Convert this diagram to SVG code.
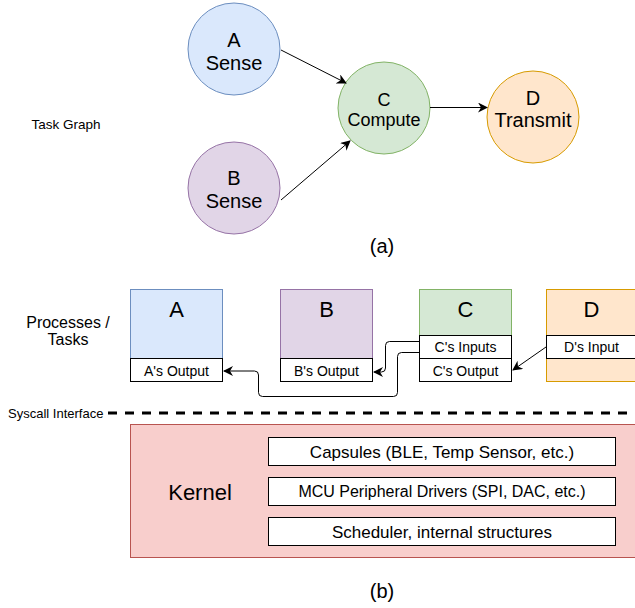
<svg xmlns="http://www.w3.org/2000/svg" width="635" height="608" viewBox="0 0 635 608">
<style>
text{font-family:"Liberation Sans",Arial,sans-serif;fill:#000;text-anchor:middle}
.blue{fill:#dae8fc;stroke:#6c8ebf}
.purple{fill:#e1d5e7;stroke:#9673a6}
.green{fill:#d5e8d4;stroke:#82b366}
.orange{fill:#ffe6cc;stroke:#d79b00}
.red{fill:#f8cecc;stroke:#b85450}
.white{fill:#fff;stroke:#000}
.conn{fill:none;stroke:#000;stroke-width:1}
.c20{font-size:20px}
.c18{font-size:18px}
.c22{font-size:22px}
.c14{font-size:14px}
.c17{font-size:17px}
</style>
<defs>
<marker id="arr" viewBox="0 0 10 10" refX="9" refY="5" markerWidth="10" markerHeight="10" markerUnits="userSpaceOnUse" orient="auto">
<path d="M0,0 L10,5 L0,10 L3,5 Z" fill="#000"/>
</marker>
</defs>
<rect width="635" height="608" fill="#fff"/>

<text x="66" y="129" style="font-size:13.5px">Task Graph</text>

<g id="nodeA">
<circle cx="234" cy="49" r="46" class="blue"/>
<text x="234" y="47" class="c20">A</text>
<text x="234" y="70" class="c20">Sense</text>
</g>
<g id="nodeB">
<circle cx="234" cy="188" r="46" class="purple"/>
<text x="234" y="185" class="c20">B</text>
<text x="234" y="208" class="c20">Sense</text>
</g>
<g id="nodeC">
<circle cx="384" cy="108" r="46" class="green"/>
<text x="384" y="106" class="c18">C</text>
<text x="384" y="126" class="c18">Compute</text>
</g>
<g id="nodeD">
<circle cx="533" cy="117" r="46" class="orange"/>
<text x="533" y="105" class="c20">D</text>
<text x="533" y="127" class="c20">Transmit</text>
</g>

<text x="382" y="253" style="font-size:20px">(a)</text>

<text x="68" y="328" style="font-size:16px">Processes /</text>
<text x="68" y="345" style="font-size:16px">Tasks</text>

<g id="procA">
<rect x="130.5" y="289.5" width="92" height="69" class="blue"/>
<rect x="130.5" y="358.5" width="92" height="23" class="white"/>
<text x="176.5" y="317" class="c22">A</text>
<text x="176.5" y="375.5" class="c14">A's Output</text>
</g>
<g id="procB">
<rect x="280.5" y="289.5" width="92" height="69" class="purple"/>
<rect x="280.5" y="358.5" width="92" height="23" class="white"/>
<text x="326.5" y="317" class="c22">B</text>
<text x="326.5" y="375.5" class="c14">B's Output</text>
</g>
<g id="procC">
<rect x="419.5" y="289.5" width="92" height="46" class="green"/>
<rect x="419.5" y="335.5" width="92" height="23" class="white"/>
<rect x="419.5" y="358.5" width="92" height="23" class="white"/>
<text x="465.5" y="317" class="c22">C</text>
<text x="465.5" y="352" class="c14">C's Inputs</text>
<text x="465.5" y="375.5" class="c14">C's Output</text>
</g>
<g id="procD">
<rect x="546.5" y="289.5" width="92" height="92" class="orange"/>
<rect x="546.5" y="335.5" width="92" height="23" class="white"/>
<text x="591.5" y="317" class="c22">D</text>
<text x="591.5" y="352" class="c14">D's Input</text>
</g>

<g id="connectors">
<line x1="281" y1="50" x2="346" y2="83" class="conn" marker-end="url(#arr)"/>
<line x1="281" y1="200" x2="350" y2="141" class="conn" marker-end="url(#arr)"/>
<line x1="430" y1="107.5" x2="487" y2="107.5" class="conn" marker-end="url(#arr)"/>
<path d="M419,341.5 L389.5,341.5 Q385.5,341.5 385.5,345.5 L385.5,368 Q385.5,372 381.5,372 L374,372" class="conn" marker-end="url(#arr)"/>
<path d="M419,352.5 L401.5,352.5 Q397.5,352.5 397.5,356.5 L397.5,392.5 Q397.5,396.5 393.5,396.5 L262.5,396.5 Q258.5,396.5 258.5,392.5 L258.5,375 Q258.5,371 254.5,371 L224,371" class="conn" marker-end="url(#arr)"/>
<line x1="546" y1="347" x2="513" y2="370" class="conn" marker-end="url(#arr)"/>
</g>

<text x="8" y="418" style="font-size:13px;text-anchor:start">Syscall Interface</text>
<line x1="108" y1="413" x2="635" y2="413" stroke="#000" stroke-width="3" stroke-dasharray="9 8"/>

<g id="kernel">
<rect x="130.5" y="424.5" width="510" height="133" class="red"/>
<text x="200" y="500" style="font-size:22px">Kernel</text>
</g>
<g id="capsules">
<rect x="268.5" y="437.5" width="347" height="28" class="white"/>
<text x="442" y="457.5" class="c17">Capsules (BLE, Temp Sensor, etc.)</text>
</g>
<g id="drivers">
<rect x="268.5" y="477.5" width="347" height="28" class="white"/>
<text x="442" y="497" style="font-size:16px">MCU Peripheral Drivers (SPI, DAC, etc.)</text>
</g>
<g id="scheduler">
<rect x="268.5" y="517.5" width="347" height="28" class="white"/>
<text x="442" y="537.5" class="c17">Scheduler, internal structures</text>
</g>

<text x="382" y="598" style="font-size:20px">(b)</text>
</svg>
